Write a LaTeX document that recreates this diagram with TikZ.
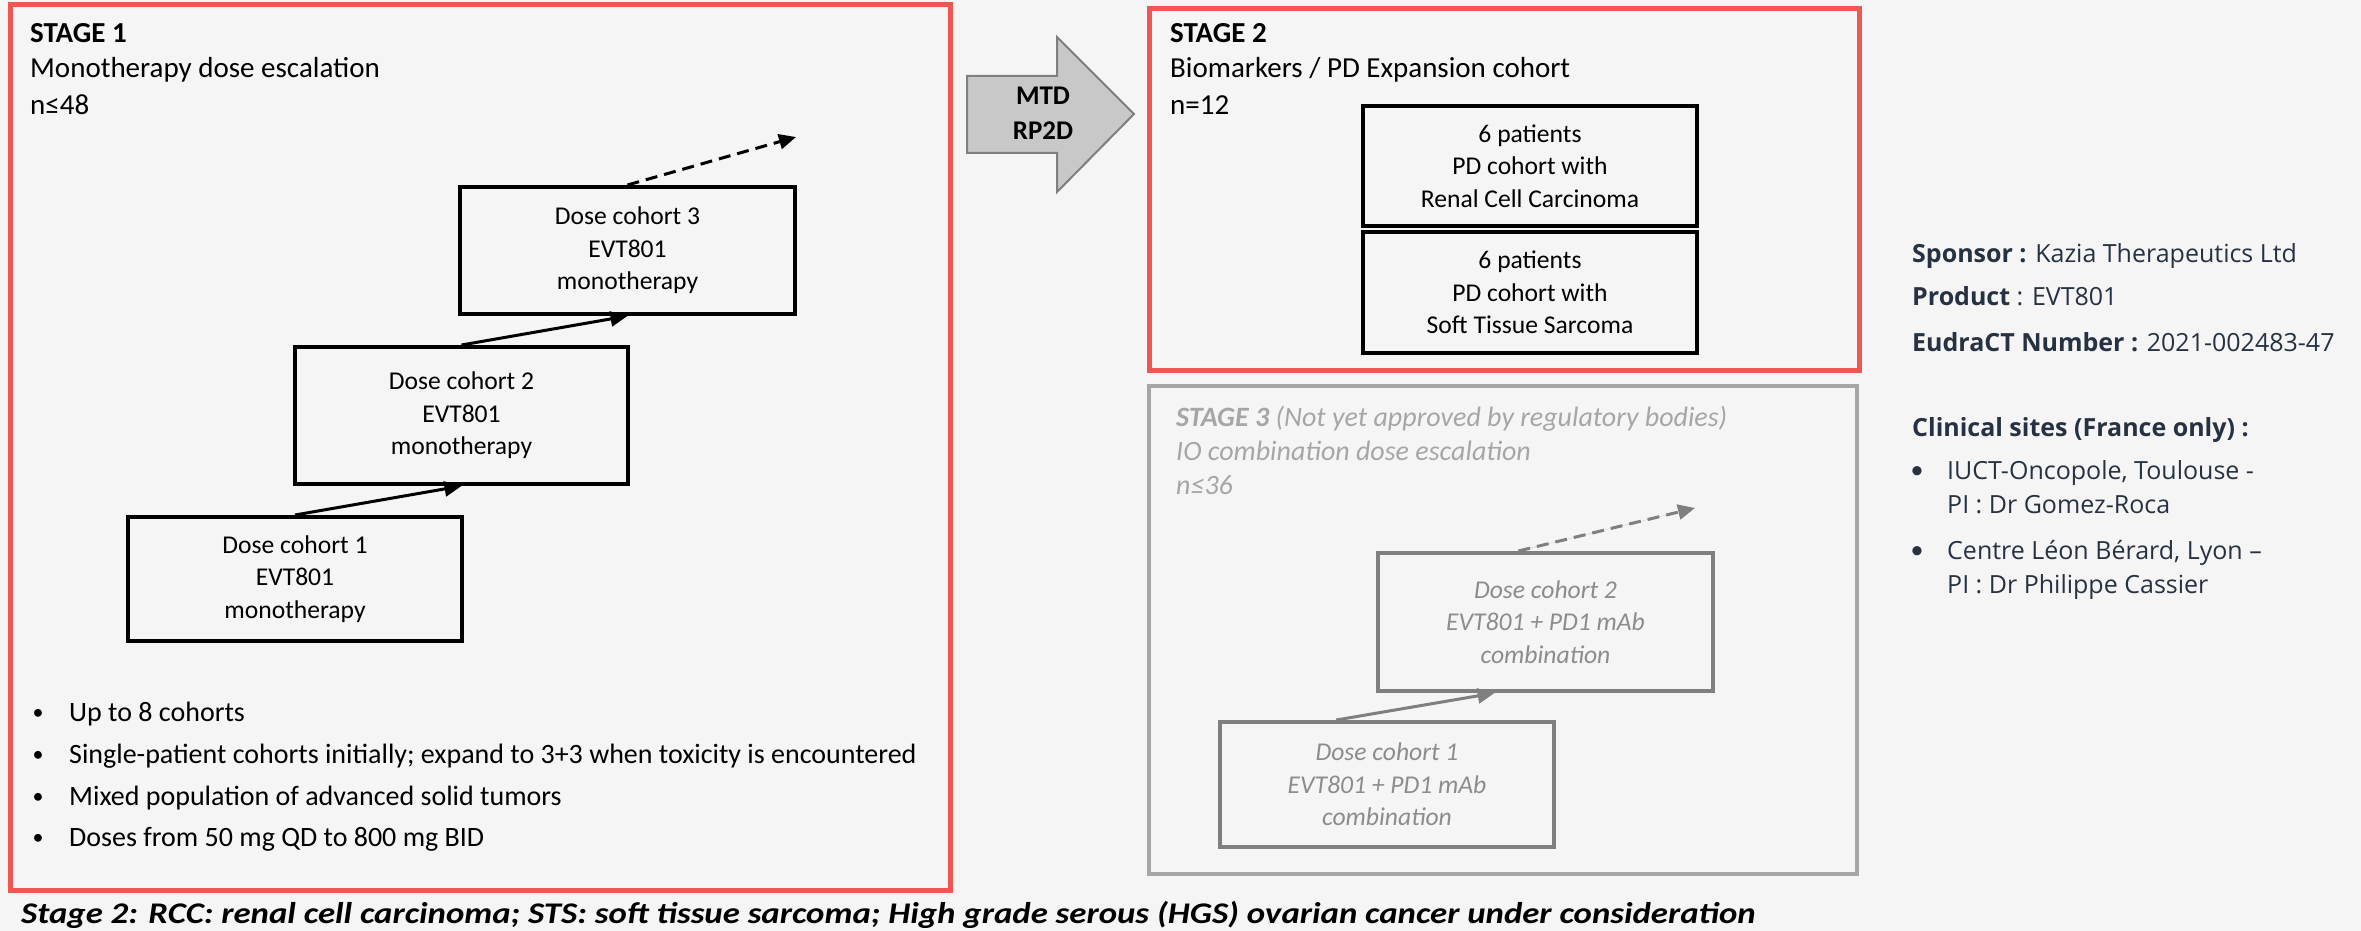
\documentclass[tikz,border=0pt]{standalone}
\usepackage{fontspec}
\setmainfont{Carlito}
\newfontfamily\rfont{Open Sans}
\newfontfamily\footfont[FakeStretch=1.16]{Carlito}
\usetikzlibrary{arrows.meta,calc}
\definecolor{bg}{RGB}{245,245,245}
\definecolor{redb}{RGB}{238,88,80}
\definecolor{grayb}{RGB}{166,166,166}
\definecolor{grayc}{RGB}{127,127,127}
\definecolor{grayt}{RGB}{140,140,140}
\definecolor{slate}{RGB}{38,50,66}
\definecolor{arrfill}{RGB}{200,200,200}
\tikzset{
  stagebox/.style={draw=redb,line width=5pt},
  grstage/.style={draw=grayb,line width=4.5pt},
  cohort/.style={draw=black,line width=4pt,align=center,inner sep=0pt,
    font=\fontsize{25.6}{32.5}\selectfont},
  gcohort/.style={draw=grayc,line width=4pt,align=center,inner sep=0pt,text=grayt,
    font=\fontsize{25.6}{32.5}\selectfont\itshape},
  head/.style={anchor=base west,inner sep=0pt,font=\fontsize{29}{37}\selectfont},
  blt/.style={anchor=base west,inner sep=0pt,font=\fontsize{28}{37}\selectfont},
  link/.style={line width=3pt,-{Triangle[length=17pt,width=15pt]}},
  rtext/.style={anchor=base west,inner sep=0pt,text=slate,font=\rfont\fontsize{25}{30}\selectfont},
}
\begin{document}
\begin{tikzpicture}[x=1pt,y=-1pt]
\useasboundingbox (0,0) rectangle (2361,931);
\fill[bg] (0,0) rectangle (2361,931);
% Stage 1
\draw[stagebox] (10.5,5) rectangle (950.5,890.5);
\node[head] (s1a) at (30,43) {\bfseries STAGE 1};
\node[head] (s1b) at (30,78) {Monotherapy dose escalation};
\node[head] (s1c) at (30,115) {n≤48};
\node[cohort,minimum width=335pt,minimum height=127pt] (c3) at (627.5,250.5) {Dose cohort 3\\EVT801\\monotherapy};
\node[cohort,minimum width=333pt,minimum height=137pt] (c2) at (461.5,415.5) {Dose cohort 2\\EVT801\\monotherapy};
\node[cohort,minimum width=334pt,minimum height=124pt] (c1) at (295,579) {Dose cohort 1\\EVT801\\monotherapy};
\draw[link] (c1.north) -- (c2.south);
\draw[link] (c2.north) -- (c3.south);
\coordinate (d3) at (796,137);
\draw[link,dashed,dash pattern=on 12pt off 7pt] (c3.north) -- (d3);
\foreach \t [count=\i] in {Up to 8 cohorts,Single-patient cohorts initially; expand to 3+3 when toxicity is encountered,Mixed population of advanced solid tumors,Doses from 50 mg QD to 800 mg BID}{
  \node[blt] (b\i) at (69,{680+41.7*\i}) {\t};
  \node[blt,anchor=base,font=\fontsize{22}{22}\selectfont] (bd\i) at (38,{678+41.7*\i}) {•};
}
% MTD arrow
\draw[draw=grayc,fill=arrfill,line width=2pt,line join=miter] (967,76) -- (1057,76) -- (1057,37) -- (1134,114) -- (1057,192) -- (1057,153) -- (967,153) -- cycle;
\node[align=center,inner sep=0pt,font=\fontsize{27}{35}\selectfont\bfseries] (mtd) at (1043,113) {MTD\\RP2D};
% Stage 2
\draw[stagebox] (1149.5,9) rectangle (1859,370);
\node[head] (s2a) at (1170,43) {\bfseries STAGE 2};
\node[head] (s2b) at (1170,78) {Biomarkers / PD Expansion cohort};
\node[head] (s2c) at (1170,115) {n=12};
\node[cohort,minimum width=334pt,minimum height=120pt] (rcc) at (1530,166) {6 patients\\PD cohort with\\Renal Cell Carcinoma};
\node[cohort,minimum width=334pt,minimum height=121pt] (sts) at (1530,292.5) {6 patients\\PD cohort with\\Soft Tissue Sarcoma};
% Stage 3
\draw[grstage] (1149,386) rectangle (1857,874);
\node[head,text=grayb,font=\fontsize{28}{37}\selectfont] (s3a) at (1176,426) {\bfseries\itshape STAGE 3 \mdseries(Not yet approved by regulatory bodies)};
\node[head,text=grayb,font=\fontsize{28}{37}\selectfont] (s3b) at (1176,460) {\itshape IO combination dose escalation};
\node[head,text=grayb,font=\fontsize{28}{37}\selectfont] (s3c) at (1176,494) {\itshape n≤36};
\node[gcohort,minimum width=335pt,minimum height=138pt] (g2) at (1545.5,622) {Dose cohort 2\\EVT801 + PD1 mAb\\combination};
\node[gcohort,minimum width=334pt,minimum height=125pt] (g1) at (1387,784.5) {Dose cohort 1\\EVT801 + PD1 mAb\\combination};
\draw[link,draw=grayc,fill=grayc] ($(g1.north west)!0.35!(g1.north east)$) -- ($(g2.south west)!0.35!(g2.south east)$);
\coordinate (d2) at (1695,508);
\draw[link,draw=grayc,fill=grayc,dashed,dash pattern=on 12pt off 7pt] ($(g2.north west)!0.42!(g2.north east)$) -- (d2);
% Right info
\node[rtext] (sp) at (1912,262) {\bfseries Sponsor : \mdseries Kazia Therapeutics Ltd};
\node[rtext] (pr) at (1912,305) {\bfseries Product \mdseries: EVT801};
\node[rtext] (eu) at (1912,351) {\bfseries EudraCT Number : \mdseries 2021-002483-47};
\node[rtext] (cl) at (1912,436) {\bfseries Clinical sites (France only) :};
\node[rtext] (i1) at (1947,479) {IUCT-Oncopole, Toulouse -};
\node[rtext] (i1b) at (1947,513) {PI : Dr Gomez-Roca};
\node[rtext] (i2) at (1947,559) {Centre Léon Bérard, Lyon –};
\node[rtext] (i2b) at (1947,593) {PI : Dr Philippe Cassier};
\node[rtext,anchor=base,font=\fontsize{26}{26}\selectfont] (ib1) at (1917,478) {•};
\node[rtext,anchor=base,font=\fontsize{26}{26}\selectfont] (ib2) at (1917,558) {•};
% Footer
\node[head,font=\footfont\fontsize{30}{32}\selectfont\bfseries\itshape] (ft) at (21,923) {Stage 2: RCC: renal cell carcinoma; STS: soft tissue sarcoma; High grade serous (HGS) ovarian cancer under consideration};
\end{tikzpicture}
\end{document}
